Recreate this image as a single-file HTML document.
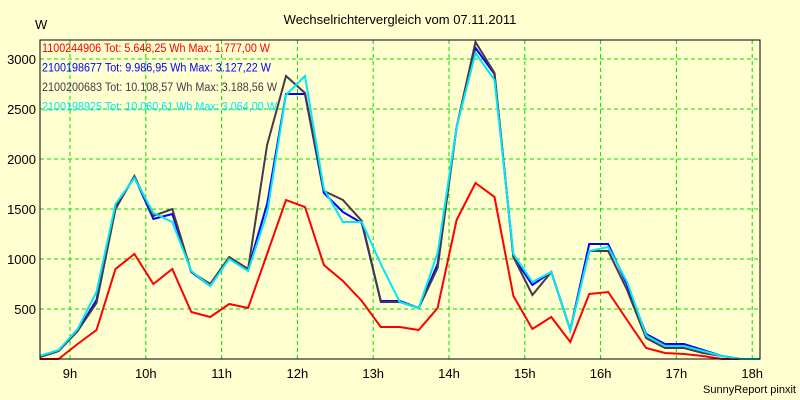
<!DOCTYPE html>
<html><head><meta charset="utf-8"><style>
body{margin:0;background:#ffffd0;}
svg{display:block;font-family:"Liberation Sans",sans-serif;}
</style></head><body>
<svg id="chart" width="800" height="400">
<rect x="0" y="0" width="800" height="400" fill="#ffffd0"/>
<text x="400" y="24" font-size="13" text-anchor="middle">Wechselrichtervergleich vom 07.11.2011</text>
<text x="35" y="29" font-size="13">W</text>
<text x="796" y="393" font-size="11" text-anchor="end">SunnyReport pinxit</text>
<g id="grid"></g><g id="ticks"></g><g id="series"></g>
<rect x="40" y="40" width="720" height="319" fill="none" stroke="#000" stroke-width="1"/>
<g id="legend"></g>
</svg>
<script>
const hourTicks = [9,10,11,12,13,14,15,16,17,18];
const yTicks = [500,1000,1500,2000,2500,3000];
const startHour = 8.6;
const stepHour = 0.25;
const red = [0,0,150,290,900,1050,750,900,470,420,550,510,1050,1590,1520,940,780,580,320,320,290,510,1390,1760,1620,630,300,420,170,650,670,390,110,60,50,30,0,0,0];
const blue = [20,80,280,590,1520,1820,1400,1450,870,730,1010,900,1550,2650,2650,1660,1470,1360,580,580,510,950,2320,3110,2850,1020,740,870,290,1150,1150,740,250,150,150,90,30,0,0];
const dark = [20,80,280,560,1500,1830,1430,1500,870,750,1020,900,2140,2830,2660,1680,1590,1380,570,570,510,910,2320,3170,2860,1020,640,870,290,1080,1080,690,210,110,110,60,30,0,0];
const cyan = [30,90,300,670,1550,1810,1460,1370,880,730,1000,880,1460,2640,2830,1700,1370,1370,950,570,510,1060,2320,3060,2790,1050,770,870,290,1080,1120,770,236,130,130,80,30,0,0];
const names = ["1100244906 Tot: 5.648,25 Wh Max: 1.777,00 W","2100198677 Tot: 9.986,95 Wh Max: 3.127,22 W","2100200683 Tot: 10.108,57 Wh Max: 3.188,56 W","2100198925 Tot: 10.060,61 Wh Max: 3.064,00 W"];
const NS="http://www.w3.org/2000/svg";
function xH(h){return 70+(h-9)*75.8;}
function yV(v){return 359-v*0.1;}
function mk(tag,attrs,parent){const e=document.createElementNS(NS,tag);for(const k in attrs)e.setAttribute(k,attrs[k]);parent.appendChild(e);return e;}
const grid=document.getElementById('grid'),ticks=document.getElementById('ticks'),ser=document.getElementById('series'),leg=document.getElementById('legend');
hourTicks.forEach(h=>{
  const l=mk('line',{x1:xH(h),x2:xH(h),y1:40,y2:359,stroke:'#00e000','stroke-dasharray':'4,3'},grid);
  
  
  const t=mk('text',{x:xH(h),y:378,'font-size':13,'text-anchor':'middle'},ticks);
  t.textContent=h+'h';
  
  
});
yTicks.forEach(v=>{
  const l=mk('line',{x1:40,x2:760,y1:yV(v),y2:yV(v),stroke:'#00e000','stroke-dasharray':'4,3'},grid);
  
  
  const t=mk('text',{x:36,y:yV(v)+5,'font-size':13,'text-anchor':'end'},ticks);
  t.textContent=v;
  
  
});
const legendWidths=[228,229,235,235];
const all=[[red,'#ff0000','series-1100244906'],[blue,'#0000ff','series-2100198677'],[dark,'#483848','series-2100200683'],[cyan,'#00e8f8','series-2100198925']];
all.forEach((s,si)=>{
  const pts=s[0].map((v,i)=>xH(startHour+i*stepHour).toFixed(1)+','+yV(v).toFixed(1)).join(' ');
  const p=mk('polyline',{points:pts,fill:'none',stroke:s[1],'stroke-width':2,'stroke-linejoin':'miter'},ser);
  
  
  const t=mk('text',{x:42,y:52+si*19.5,'font-size':11.5,fill:s[1],textLength:legendWidths[si],lengthAdjust:'spacingAndGlyphs'},leg);
  t.textContent=names[si];
  
  
});
</script>
</body></html>
